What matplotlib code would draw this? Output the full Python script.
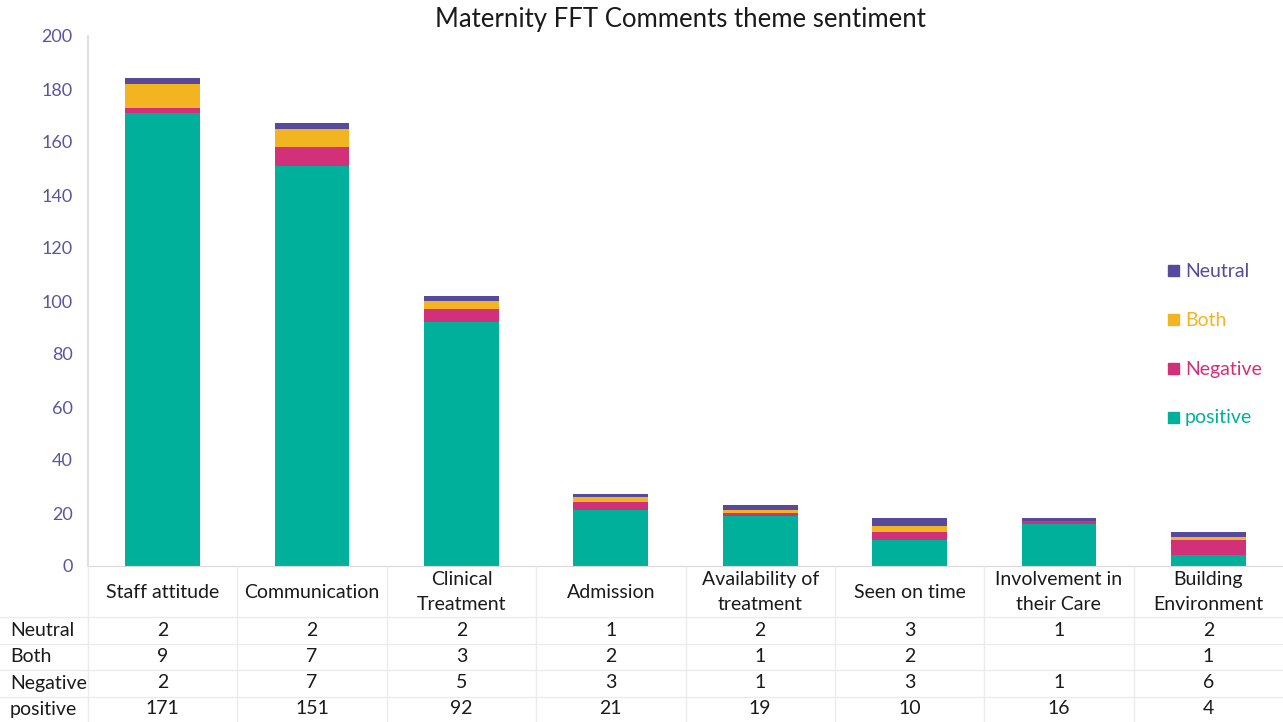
import matplotlib.pyplot as plt
import numpy as np

plt.rcParams['font.family'] = ['Lato', 'DejaVu Sans']

categories = ["Staff attitude", "Communication", "Clinical\nTreatment", "Admission",
              "Availability of\ntreatment", "Seen on time", "Involvement in\ntheir Care",
              "Building\nEnvironment"]
positive = [171, 151, 92, 21, 19, 10, 16, 4]
negative = [2, 7, 5, 3, 1, 3, 1, 6]
both = [9, 7, 3, 2, 1, 2, 0, 1]
neutral = [2, 2, 2, 1, 2, 3, 1, 2]
yticks = [0, 20, 40, 60, 80, 100, 120, 140, 160, 180, 200]

series = [("positive", positive, "#00B09B"),
          ("Negative", negative, "#D3307A"),
          ("Both", both, "#F2B521"),
          ("Neutral", neutral, "#574A9D")]

W, H = 1283, 722
fig = plt.figure(figsize=(W / 100, H / 100), dpi=100)
ax = fig.add_axes([88 / W, 1 - 566 / H, (W - 88) / W, 530 / H])

x = np.arange(len(categories))
bottom = np.zeros(len(categories))
for name, vals, col in series:
    ax.bar(x, vals, width=0.5, bottom=bottom, color=col, label=name)
    bottom += np.array(vals)

ax.set_xlim(-0.5, len(categories) - 0.5)
ax.set_ylim(0, 200)
ax.set_yticks(yticks)
ax.tick_params(axis='y', length=0, labelsize=13, labelcolor="#5B55A0", pad=11)
ax.set_xticks([])
for s in ["top", "right"]:
    ax.spines[s].set_visible(False)
ax.spines["left"].set_color("#D9D9D9")
ax.spines["bottom"].set_color("#D9D9D9")
ax.spines["left"].set_linewidth(1.2)

fig.text(680 / W, 1 - 20 / H, "Maternity FFT Comments theme sentiment",
         ha="center", va="center", fontsize=18.5, color="#1a1a1a")

# legend, top to bottom: Neutral, Both, Negative, positive
leg_y = [271, 320, 369, 418]
for (name, vals, col), py in zip(series[::-1], leg_y):
    fig.patches.append(plt.Rectangle((1168 / W, 1 - (py + 5) / H), 11 / W, 11 / H,
                                     transform=fig.transFigure, color=col))
    fig.text(1185 / W, 1 - py / H, name, ha="left", va="center", fontsize=14, color=col)

# data table under the axis
grid = "#EBEBEB"
col_edges = [88 + i * (W - 88) / len(categories) for i in range(len(categories) + 1)]
fig.add_artist(plt.Line2D([88 / W, 88 / W], [0, 1 - 566 / H], color=grid, lw=1))
for xe in col_edges[1:-1]:
    fig.add_artist(plt.Line2D([xe / W, xe / W], [0, 1 - 566 / H], color=grid, lw=1))
for py in [617, 644, 670, 697]:
    fig.add_artist(plt.Line2D([0, 1], [1 - py / H, 1 - py / H], color=grid, lw=1))

centers = [(col_edges[i] + col_edges[i + 1]) / 2 for i in range(len(categories))]
for cx, cat in zip(centers, categories):
    fig.text(cx / W, 1 - 592 / H, cat, ha="center", va="center", fontsize=14,
             color="#1a1a1a", linespacing=1.55)

row_y = [630, 657, 683, 709]
for (name, vals, col), py in zip(series[::-1], row_y):
    fig.text(10 / W, 1 - py / H, name, ha="left", va="center", fontsize=14, color="#1a1a1a")
    for cx, v in zip(centers, vals):
        if v:
            fig.text(cx / W, 1 - py / H, str(v), ha="center", va="center",
                     fontsize=14, color="#1a1a1a")

fig.savefig("out.png", dpi=100)
